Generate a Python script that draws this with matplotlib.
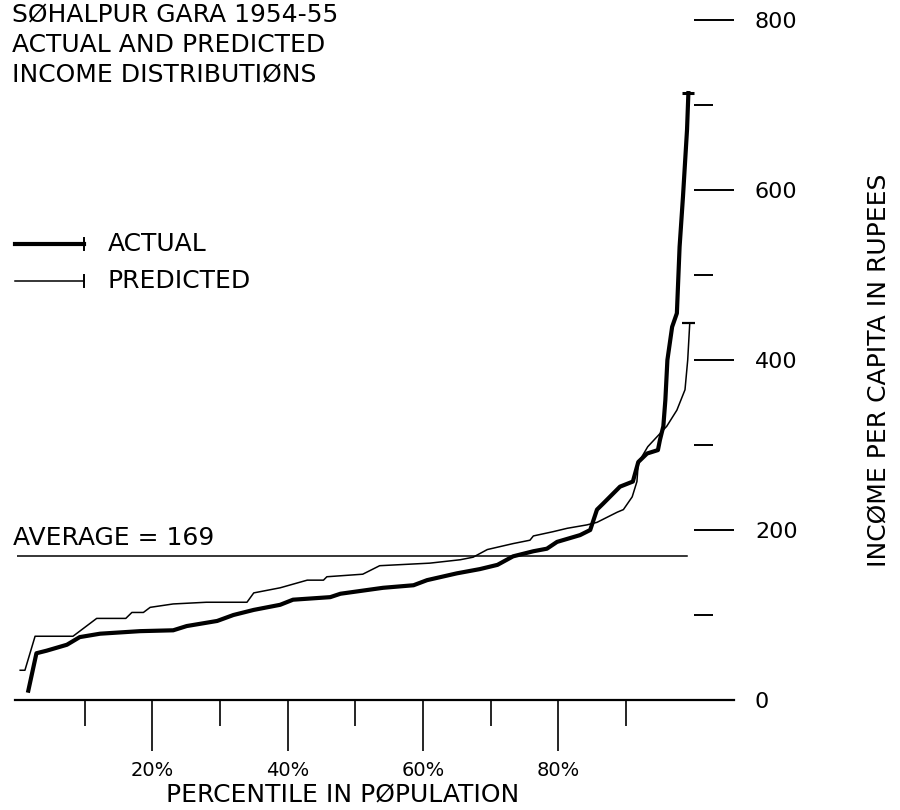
import numpy as np
import matplotlib
matplotlib.use("Agg")
import matplotlib.pyplot as plt
from matplotlib.lines import Line2D

# percentile in population (x) and income per capita in rupees (y)
actual_pct = [1.7, 2.9, 4.4, 7.4, 9.3, 12.3, 18.2, 23.1, 25.1, 29.6, 32.0, 35.0,
              38.9, 40.8, 46.3, 47.8, 54.1, 58.6, 60.6, 65.0, 68.4, 71.0, 73.3,
              76.3, 78.3, 79.8, 83.2, 84.7, 85.7, 86.6, 89.1, 91.0, 91.8, 93.1,
              94.7, 95.0, 95.5, 95.8, 96.1, 96.8, 97.5, 97.9, 98.4, 99.0, 99.2]
actual_val = [11, 55, 58, 65, 74, 78, 81, 82, 87, 93, 100, 106,
              112, 118, 121, 125, 132, 135, 141, 149, 154, 159, 169,
              175, 178, 186, 194, 200, 224, 231, 251, 257, 280, 290,
              294, 306, 322, 353, 400, 439, 455, 533, 592, 671, 714]

predicted_pct = [0.5, 1.2, 2.7, 8.3, 11.8, 16.1, 17.0, 18.7, 19.7, 23.1, 28.0,
                 34.0, 35.0, 38.9, 42.9, 45.3, 45.8, 51.1, 53.6, 61.0, 65.5,
                 67.4, 69.5, 73.3, 75.8, 76.3, 79.2, 81.3, 84.2, 85.7, 88.7,
                 89.6, 90.9, 91.6, 91.8, 93.2, 94.6, 96.0, 97.5, 98.7, 99.1, 99.4]
predicted_val = [35, 35, 75, 75, 96, 96, 103, 103, 109, 113, 115,
                 115, 126, 132, 141, 141, 145, 148, 158, 161, 165,
                 168, 177, 184, 188, 193, 198, 202, 206, 209, 221,
                 224, 239, 257, 279, 298, 310, 322, 341, 365, 400, 443]

average = 169
y_major = [0, 200, 400, 600, 800]
y_minor = [100, 300, 500, 700]
x_major = [20, 40, 60, 80]
x_minor = [10, 30, 50, 70, 90]

plt.rcParams["font.family"] = ["DejaVu Sans"]

W, H = 900, 810
fig = plt.figure(figsize=(9, 8.1), dpi=100)
# axes placed so that 0..100% and 0..800 land where the plotter put them
x0, x100 = 16.8, 693.8
y0, y800 = 700, 20
ax = fig.add_axes([x0 / W, (H - y0) / H, (x100 - x0) / W, (y0 - y800) / H])
ax.set_xlim(0, 100)
ax.set_ylim(0, 800)
for s in ax.spines.values():
    s.set_visible(False)

# x axis line, running a bit past the right edge
ax.axhline(0, xmin=-0.003, xmax=1.06, color="black", lw=1.6, clip_on=False)

ax.plot(actual_pct, actual_val, color="black", lw=3.0, solid_joinstyle="round")
ax.plot(predicted_pct, predicted_val, color="black", lw=1.1)
ax.plot(actual_pct[-1], actual_val[-1], marker="_", ms=8, mew=2.2, color="black")
ax.plot(predicted_pct[-1], predicted_val[-1], marker="_", ms=12, mew=1.6, color="black")

ax.axhline(average, xmin=-0.003, xmax=0.99, color="black", lw=1.1)
ax.text(-0.6, average + 8, f"AVERAGE = {average}", fontsize=18, ha="left", va="bottom")

# y ticks on the right, no axis line
ax.yaxis.tick_right()
ax.set_yticks(y_major)
ax.set_yticklabels([str(v) for v in y_major])
ax.set_yticks(y_minor, minor=True)
ax.tick_params(axis="y", which="major", direction="out", length=29, width=1.4,
               pad=15, labelsize=16)
ax.tick_params(axis="y", which="minor", direction="out", length=14, width=1.4)

ax.set_xticks(x_major)
ax.set_xticklabels([f"{v}%" for v in x_major])
ax.set_xticks(x_minor, minor=True)
ax.tick_params(axis="x", which="major", direction="out", length=37, width=1.2,
               pad=7, labelsize=14)
ax.tick_params(axis="x", which="minor", direction="out", length=19, width=1.2)

fig.text(343 / W, 1 - 795 / H, "PERCENTILE IN PØPULATION", fontsize=18,
         ha="center", va="center")
fig.text(878 / W, 1 - 370 / H, "INCØME PER CAPITA IN RUPEES", fontsize=18,
         ha="center", va="center", rotation=90)

title = ["SØHALPUR GARA 1954-55", "ACTUAL AND PREDICTED", "INCOME DISTRIBUTIØNS"]
for i, line in enumerate(title):
    fig.text(12 / W, 1 - (15 + 30 * i) / H, line, fontsize=18, ha="left", va="center")

# hand-drawn legend
for ypix, lw, label in [(244, 3.0, "ACTUAL"), (281, 1.1, "PREDICTED")]:
    yf = 1 - ypix / H
    fig.add_artist(Line2D([15 / W, 84 / W], [yf, yf], color="black", lw=lw))
    fig.add_artist(Line2D([84 / W, 84 / W], [yf - 6 / H, yf + 6 / H], color="black", lw=1.4))
    fig.text(108 / W, yf, label, fontsize=18, ha="left", va="center")

fig.savefig("out.png", dpi=100)
